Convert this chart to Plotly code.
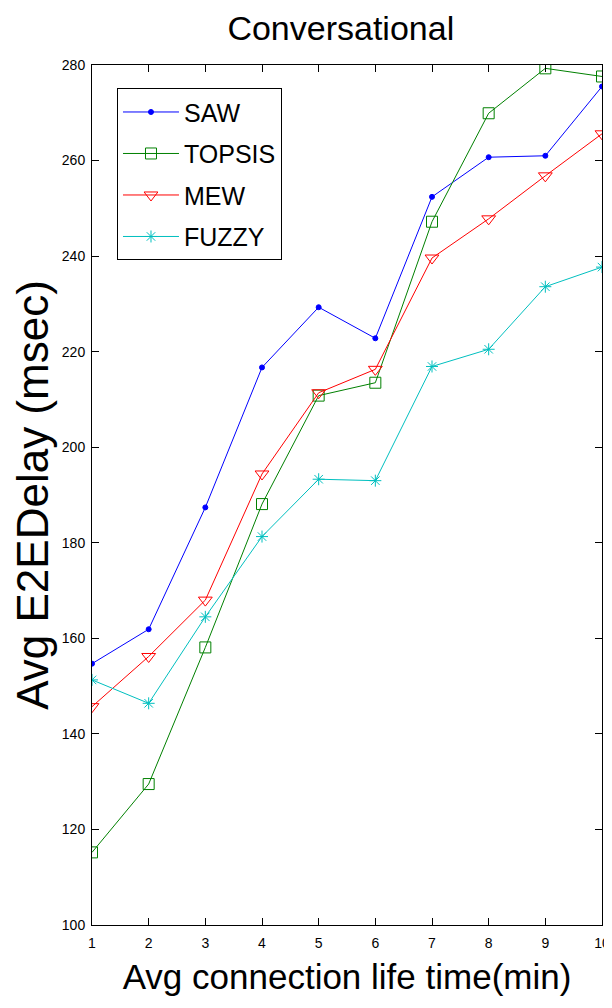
import plotly.graph_objects as go

x_vals = [1, 2, 3, 4, 5, 6, 7, 8, 9, 10]
saw = [154.7, 161.9, 187.4, 216.7, 229.3, 222.8, 252.4, 260.7, 261.0, 275.5]
topsis = [115.2, 129.5, 158.1, 188.1, 210.8, 213.5, 247.2, 269.9, 279.3, 277.6]
mew = [145.7, 156.2, 168.0, 194.4, 211.4, 216.3, 239.6, 247.8, 256.8, 265.6]
fuzzy = [151.3, 146.4, 164.5, 181.3, 193.3, 193.0, 216.9, 220.5, 233.6, 237.7]
y_ticks = [100, 120, 140, 160, 180, 200, 220, 240, 260, 280]

FONT = "Liberation Sans, Arial, sans-serif"

fig = go.Figure()
series = [
    ("SAW", saw, "#0000FF", "circle", 5),
    ("TOPSIS", topsis, "#008000", "square-open", 11),
    ("MEW", mew, "#FF0000", "triangle-down-open", 12),
    ("FUZZY", fuzzy, "#00BFBF", "asterisk-open", 10),
]
for i, (name, ys, col, sym, sz) in enumerate(series):
    fig.add_trace(go.Scatter(
        x=x_vals, y=ys, name=name, mode="lines+markers",
        line=dict(color=col, width=1),
        marker=dict(symbol=sym, size=sz, color=col, line=dict(color=col, width=1)),
        legendgroup=f"g{i}",
    ))

fig.update_layout(
    width=604, height=1000,
    margin=dict(l=84, r=10, t=57, b=83),
    paper_bgcolor="white", plot_bgcolor="white",
    font=dict(family=FONT, color="black"),
    title=dict(text="Conversational", x=0.551, xanchor="center", y=0.98, yanchor="middle",
               font=dict(size=34, family=FONT, color="black")),
    showlegend=True,
    legend=dict(x=0.049, y=0.973, xanchor="left", yanchor="top",
                bgcolor="white", bordercolor="black", borderwidth=1,
                font=dict(size=25, family=FONT, color="black"),
                tracegroupgap=6, traceorder="grouped", itemwidth=56),
)
fig.update_xaxes(
    range=[1, 10], tickvals=x_vals, ticks="inside", ticklen=7, tickcolor="black",
    showline=True, linecolor="black", linewidth=1, mirror="ticks",
    showgrid=False, zeroline=False, automargin=False, ticklabelstandoff=5,
    tickfont=dict(size=14, family=FONT, color="black"),
    title=dict(text="Avg connection life time(min)", font=dict(size=35, family=FONT, color="black"), standoff=14),
)
fig.update_yaxes(
    range=[100, 280], tickvals=y_ticks, ticks="inside", ticklen=7, tickcolor="black",
    showline=True, linecolor="black", linewidth=1, mirror="ticks",
    showgrid=False, zeroline=False, automargin=False, ticklabelstandoff=3,
    tickfont=dict(size=14, family=FONT, color="black"),
    title=dict(text="Avg E2EDelay (msec)", font=dict(size=44, family=FONT, color="black"), standoff=4),
)

fig.write_html("out.html")
